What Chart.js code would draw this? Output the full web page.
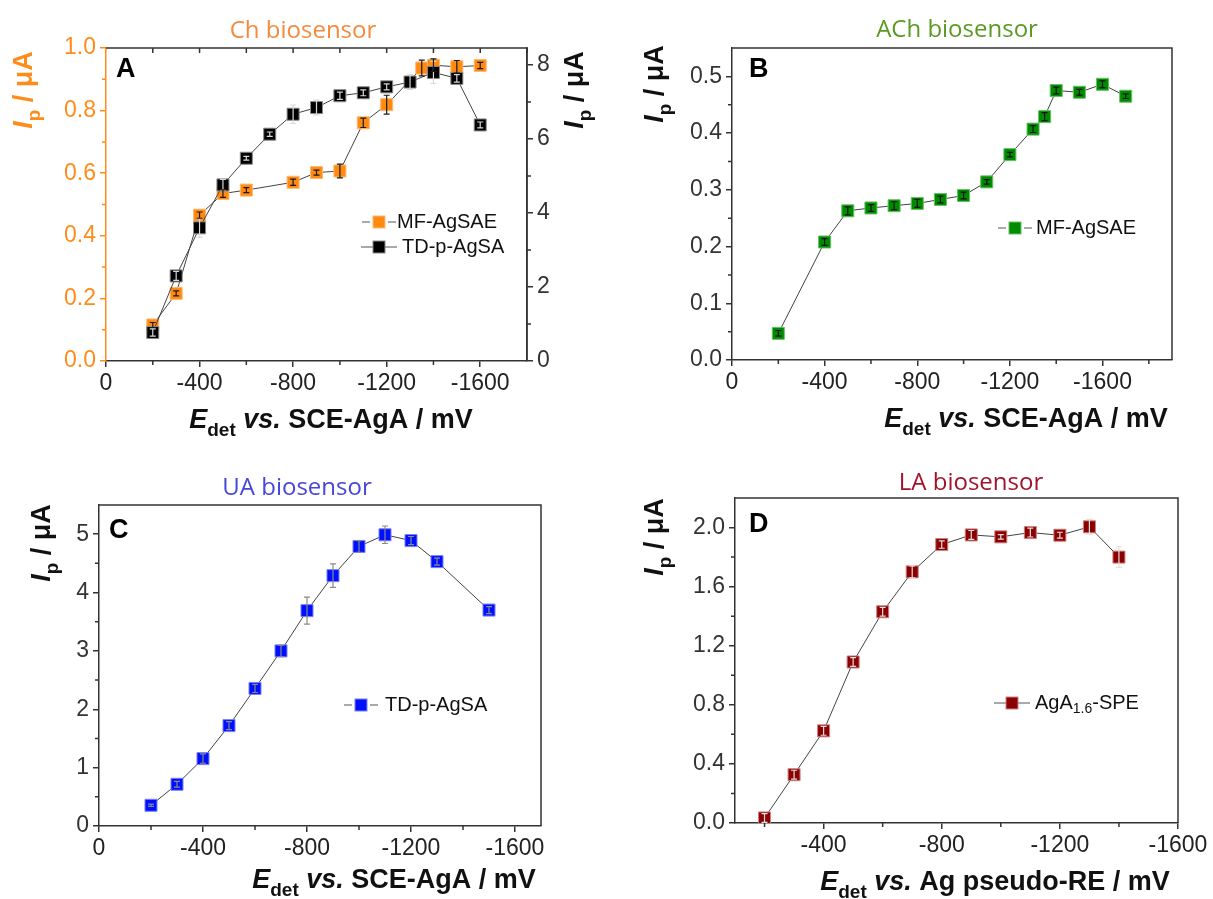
<!DOCTYPE html>
<html lang="en">
<head>
<meta charset="UTF-8">
<title>Biosensors: Ip vs detection potential</title>
<script src="https://cdn.jsdelivr.net/npm/chart.js"></script>
<style>
  body { margin: 0; background: #fff; }
  #wrap { position: relative; width: 1213px; height: 899px; overflow: hidden; }
  canvas { position: absolute; }
</style>
</head>
<body>
<div id="wrap">
  <canvas id="chartA" width="606" height="450" style="left:0;top:0"></canvas>
  <canvas id="chartB" width="607" height="450" style="left:606px;top:0"></canvas>
  <canvas id="chartC" width="606" height="449" style="left:0;top:450px"></canvas>
  <canvas id="chartD" width="607" height="449" style="left:606px;top:450px"></canvas>
</div>

<script>
// ---- data (potentials given as |E| in mV, labels are printed negative) ----

// A: Ch biosensor
const chPotMF = [200, 300, 400, 500, 600, 800, 900, 1000, 1100, 1200, 1350, 1400, 1500, 1600];
const chCurMF = [0.115, 0.216, 0.466, 0.535, 0.546, 0.571, 0.602, 0.607, 0.761, 0.819, 0.936, 0.945, 0.940, 0.944];
const chErrMF = [0.008, 0.008, 0.010, 0.012, 0.008, 0.010, 0.008, 0.022, 0.015, 0.030, 0.025, 0.020, 0.020, 0.010];
const chPotTD = [200, 300, 400, 500, 600, 700, 800, 900, 1000, 1100, 1200, 1300, 1400, 1500, 1600];
const chCurTD = [0.77, 2.30, 3.60, 4.76, 5.48, 6.13, 6.67, 6.85, 7.17, 7.25, 7.41, 7.54, 7.80, 7.64, 6.38];
const chErrTD = [0.10, 0.12, 0.25, 0.15, 0.05, 0.06, 0.25, 0.20, 0.10, 0.08, 0.08, 0.20, 0.30, 0.10, 0.08];

// B: ACh biosensor
const achPot = [200, 400, 500, 600, 700, 800, 900, 1000, 1100, 1200, 1300, 1350, 1400, 1500, 1600, 1700];
const achCur = [0.047, 0.208, 0.263, 0.268, 0.272, 0.276, 0.283, 0.290, 0.314, 0.362, 0.407, 0.429, 0.475, 0.472, 0.486, 0.465];
const achErr = [0.005, 0.006, 0.007, 0.006, 0.007, 0.007, 0.006, 0.006, 0.004, 0.004, 0.006, 0.007, 0.006, 0.005, 0.006, 0.004];

// C: UA biosensor
const uaPot = [200, 300, 400, 500, 600, 700, 800, 900, 1000, 1100, 1200, 1300, 1500];
const uaCur = [0.355, 0.715, 1.155, 1.72, 2.357, 3.0, 3.69, 4.29, 4.79, 4.99, 4.89, 4.53, 3.70];
const uaErr = [0.02, 0.05, 0.08, 0.07, 0.07, 0.10, 0.23, 0.20, 0.10, 0.15, 0.07, 0.06, 0.06];

// D: LA biosensor
const laPot = [200, 300, 400, 500, 600, 700, 800, 900, 1000, 1100, 1200, 1300, 1400];
const laCur = [0.034, 0.327, 0.624, 1.09, 1.43, 1.70, 1.885, 1.95, 1.937, 1.966, 1.948, 2.005, 1.80];
const laErr = [0.03, 0.03, 0.03, 0.03, 0.03, 0.04, 0.025, 0.03, 0.015, 0.03, 0.02, 0.05, 0.07];

// tick labels
const xTicksSCE = [0, 400, 800, 1200, 1600];
const xTicksAg = [400, 800, 1200, 1600];
const yTicksA = [0, 0.2, 0.4, 0.6, 0.8, 1.0];
const yTicksA2 = [0, 2, 4, 6, 8];
const yTicksB = [0, 0.1, 0.2, 0.3, 0.4, 0.5];
const yTicksC = [0, 1, 2, 3, 4, 5];
const yTicksD = [0, 0.4, 0.8, 1.2, 1.6, 2.0];

const AX = '#333';
const ORANGE = '#ff8c1a';
const TICK_FONT = { family: 'Liberation Sans, Arial, sans-serif', size: 23 };
const SANS = 'Liberation Sans, Arial, sans-serif';

function pts(xs, ys) { return xs.map((x, i) => ({ x, y: ys[i] })); }
function fmtPot(v) { return v === 0 ? '0' : '-' + v; }

// minor ticks halfway between the major ones
function minors(major, max) {
    const step = major[1] - major[0];
    const out = [];
    for (let v = major[0] + step / 2; v < max - 1e-9; v += step) out.push(v);
    return out;
}

// draw a run of text pieces with different fonts (italic, subscripts)
function drawRich(ctx, parts, x, y, color) {
    let total = 0;
    parts.forEach(p => { ctx.font = p.font; p.w = ctx.measureText(p.t).width; total += p.w; });
    let cx = x - total / 2;
    ctx.textAlign = 'left';
    ctx.textBaseline = 'alphabetic';
    ctx.fillStyle = color;
    parts.forEach(p => { ctx.font = p.font; ctx.fillText(p.t, cx, y + (p.dy || 0)); cx += p.w; });
}

function yTitleParts() {
    return [
        { t: 'I', font: `italic bold 27px ${SANS}` },
        { t: 'p', font: `bold 19px ${SANS}`, dy: 8 },
        { t: ' / \u03bcA', font: `bold 27px ${SANS}` }
    ];
}
function xTitleParts(ref) {
    return [
        { t: 'E', font: `italic bold 27px ${SANS}` },
        { t: 'det', font: `bold 19px ${SANS}`, dy: 8 },
        { t: ' vs.', font: `italic bold 27px ${SANS}` },
        { t: ' ' + ref + ' / mV', font: `bold 27px ${SANS}` }
    ];
}

function lineDataset(label, xs, ys, err, fill, edge, errColor, axis, order) {
    return {
        label, data: pts(xs, ys), err, errColor,
        yAxisID: axis, order,
        showLine: true, borderColor: '#444', borderWidth: 1,
        pointStyle: 'rect', pointRadius: 8.5, pointBorderWidth: 1,
        pointBackgroundColor: fill, pointBorderColor: edge
    };
}

function axisX(min, max, ticks) {
    return {
        type: 'linear', min, max,
        afterBuildTicks: s => { s.ticks = ticks.map(v => ({ value: v })); },
        afterFit: s => { s.height = 40; },
        ticks: { callback: fmtPot, font: TICK_FONT, color: '#222', padding: 3, maxRotation: 0, autoSkip: false },
        grid: { drawOnChartArea: false, color: AX, tickLength: 6, lineWidth: 1.5, tickWidth: 1.5 },
        border: { color: AX, width: 1.5 }
    };
}

function axisY(pos, max, ticks, fmt, color, width) {
    return {
        type: 'linear', position: pos, min: 0, max,
        afterBuildTicks: s => { s.ticks = ticks.map(v => ({ value: v })); },
        afterFit: s => { s.width = width; },
        ticks: { callback: fmt, font: TICK_FONT, color, padding: 4, autoSkip: false },
        grid: { drawOnChartArea: false, color, tickLength: 6, lineWidth: 1.5, tickWidth: 1.5 },
        border: { color, width: 1.5 }
    };
}

// frame, minor ticks, titles, legend and error bars for one panel
function decor(p) {
    return {
        id: 'decor',
        afterDatasetsDraw(chart) {
            const ctx = chart.ctx;
            chart.data.datasets.forEach((ds, i) => {
                const meta = chart.getDatasetMeta(i);
                const ys = chart.scales[meta.yAxisID];
                ctx.save();
                ctx.strokeStyle = ds.errColor;
                ctx.lineWidth = 1.2;
                meta.data.forEach((pt, j) => {
                    const v = ds.data[j].y, e = ds.err[j];
                    const y1 = ys.getPixelForValue(v + e), y2 = ys.getPixelForValue(v - e);
                    ctx.beginPath();
                    ctx.moveTo(pt.x, y1); ctx.lineTo(pt.x, y2);
                    ctx.moveTo(pt.x - 3, y1); ctx.lineTo(pt.x + 3, y1);
                    ctx.moveTo(pt.x - 3, y2); ctx.lineTo(pt.x + 3, y2);
                    ctx.stroke();
                });
                ctx.restore();
            });
        },
        afterDraw(chart) {
            const ctx = chart.ctx;
            const a = chart.chartArea;
            ctx.save();

            // top and right frame
            ctx.strokeStyle = AX;
            ctx.lineWidth = 1.5;
            ctx.beginPath();
            ctx.moveTo(a.left, a.top); ctx.lineTo(a.right, a.top); ctx.lineTo(a.right, a.bottom);
            ctx.stroke();

            // minor ticks
            const xs = chart.scales.x;
            ctx.beginPath();
            minors(p.xMajor, xs.max).forEach(v => {
                const px = xs.getPixelForValue(v);
                if (px < a.left - 0.5) return;
                ctx.moveTo(px, a.bottom); ctx.lineTo(px, a.bottom + 4);
            });
            ctx.stroke();
            if (p.topTicks) {
                ctx.beginPath();
                for (let v = 200; v <= xs.max; v += 200) {
                    const px = xs.getPixelForValue(v);
                    ctx.moveTo(px, a.top); ctx.lineTo(px, a.top + 5);
                }
                ctx.stroke();
            }
            p.yMinor.forEach(m => {
                const s = chart.scales[m.id];
                ctx.strokeStyle = m.color;
                ctx.beginPath();
                minors(m.major, s.max).forEach(v => {
                    const py = s.getPixelForValue(v);
                    if (s.position === 'left') { ctx.moveTo(a.left, py); ctx.lineTo(a.left - 4, py); }
                    else { ctx.moveTo(a.right, py); ctx.lineTo(a.right + 4, py); }
                });
                ctx.stroke();
            });

            // panel title and letter
            ctx.font = `24px Open Sans, Noto Sans, sans-serif`;
            ctx.fillStyle = p.titleColor;
            ctx.textAlign = 'center';
            ctx.textBaseline = 'alphabetic';
            ctx.fillText(p.title, p.titlePos[0], p.titlePos[1]);
            ctx.font = `bold 27px ${SANS}`;
            ctx.fillStyle = '#000';
            ctx.textAlign = 'left';
            ctx.fillText(p.letter, p.letterPos[0], p.letterPos[1]);

            // axis titles
            drawRich(ctx, xTitleParts(p.xRef), p.xTitle[0], p.xTitle[1], '#111');
            p.yTitles.forEach(t => {
                ctx.save();
                ctx.translate(t.x, t.y);
                ctx.rotate(-Math.PI / 2);
                drawRich(ctx, yTitleParts(), 0, 0, t.color);
                ctx.restore();
            });

            // legend
            p.legend.forEach(l => {
                const ds = chart.data.datasets[l.ds];
                ctx.strokeStyle = '#555';
                ctx.lineWidth = 1.2;
                ctx.beginPath();
                if (l.gap) {
                    ctx.moveTo(l.x - 17, l.y); ctx.lineTo(l.x - 9, l.y);
                    ctx.moveTo(l.x + 9, l.y); ctx.lineTo(l.x + 17, l.y);
                } else {
                    ctx.moveTo(l.x - 18, l.y); ctx.lineTo(l.x + 18, l.y);
                }
                ctx.stroke();
                ctx.fillStyle = ds.pointBackgroundColor;
                ctx.fillRect(l.x - 6, l.y - 6, 12, 12);
                ctx.strokeStyle = ds.pointBorderColor;
                ctx.lineWidth = 1;
                ctx.strokeRect(l.x - 6, l.y - 6, 12, 12);
                ctx.fillStyle = '#111';
                ctx.textBaseline = 'middle';
                ctx.textAlign = 'left';
                let tx = l.tx;
                l.text.forEach(seg => {
                    ctx.font = seg.sub ? `14px ${SANS}` : `20px ${SANS}`;
                    ctx.fillText(seg.t, tx, l.y + (seg.sub ? 6 : 0));
                    tx += ctx.measureText(seg.t).width;
                });
            });
            ctx.restore();
        }
    };
}

function makeChart(id, datasets, scales, padding, panel) {
    return new Chart(document.getElementById(id).getContext('2d'), {
        type: 'scatter',
        data: { datasets },
        options: {
            responsive: false,
            animation: false,
            layout: { padding },
            plugins: { legend: { display: false }, tooltip: { enabled: false } },
            scales
        },
        plugins: [decor(panel)]
    });
}

// ---- panel A ----
makeChart('chartA', [
    lineDataset('TD-p-AgSA', chPotTD, chCurTD, chErrTD, '#000', '#8a8a8a', '#d8d8d8', 'y2', 0),
    lineDataset('MF-AgSAE', chPotMF, chCurMF, chErrMF, '#ff8a12', '#ffb870', '#1a1a1a', 'y', 1)
], {
    x: axisX(0, 1800, xTicksSCE),
    y: axisY('left', 1.0, yTicksA, v => v.toFixed(1), ORANGE, 70),
    y2: axisY('right', 8.46, yTicksA2, v => String(v), AX, 40)
}, { left: 36, right: 39, top: 48, bottom: 49 }, {
    xMajor: xTicksSCE, topTicks: true,
    yMinor: [{ id: 'y', major: yTicksA, color: ORANGE }, { id: 'y2', major: yTicksA2, color: AX }],
    title: 'Ch biosensor', titleColor: '#f58a3d', titlePos: [303, 38],
    letter: 'A', letterPos: [116, 77],
    xRef: 'SCE-AgA', xTitle: [331, 428],
    yTitles: [{ x: 32, y: 90, color: ORANGE }, { x: 583, y: 90, color: '#111' }],
    legend: [
        { ds: 1, x: 379, y: 222, tx: 397, gap: true, text: [{ t: 'MF-AgSAE' }] },
        { ds: 0, x: 379, y: 247, tx: 402, text: [{ t: 'TD-p-AgSA' }] }
    ]
});

// ---- panel B ----
makeChart('chartB', [
    lineDataset('MF-AgSAE', achPot, achCur, achErr, '#008a00', '#66c266', '#111', 'y', 0)
], {
    x: axisX(0, 1900, xTicksSCE),
    y: axisY('left', 0.55, yTicksB, v => v.toFixed(1), AX, 70)
}, { left: 56, right: 41, top: 48, bottom: 50 }, {
    xMajor: xTicksSCE,
    yMinor: [{ id: 'y', major: yTicksB, color: AX }],
    title: 'ACh biosensor', titleColor: '#5a9a22', titlePos: [351, 37],
    letter: 'B', letterPos: [143, 77],
    xRef: 'SCE-AgA', xTitle: [420, 427],
    yTitles: [{ x: 57, y: 84, color: '#111' }],
    legend: [{ ds: 0, x: 409, y: 228, tx: 430, gap: true, text: [{ t: 'MF-AgSAE' }] }]
});

// ---- panel C ----
makeChart('chartC', [
    lineDataset('TD-p-AgSA', uaPot, uaCur, uaErr, '#0010ff', '#7a80ff', '#8a8a8a', 'y', 0)
], {
    x: axisX(0, 1700, xTicksSCE),
    y: axisY('left', 5.5, yTicksC, v => String(v), AX, 70)
}, { left: 29, right: 65, top: 55, bottom: 33 }, {
    xMajor: xTicksSCE,
    yMinor: [{ id: 'y', major: yTicksC, color: AX }],
    title: 'UA biosensor', titleColor: '#4646dc', titlePos: [297, 45],
    letter: 'C', letterPos: [109, 88],
    xRef: 'SCE-AgA', xTitle: [394, 438],
    yTitles: [{ x: 50, y: 93, color: '#111' }],
    legend: [{ ds: 0, x: 361, y: 255, tx: 385, gap: true, text: [{ t: 'TD-p-AgSA' }] }]
});

// ---- panel D ----
makeChart('chartD', [
    lineDataset('AgA1.6-SPE', laPot, laCur, laErr, '#8b0000', '#d08080', '#e0e0e0', 'y', 0)
], {
    x: axisX(100, 1600, xTicksAg),
    y: axisY('left', 2.2, yTicksD, v => v.toFixed(1), AX, 70)
}, { left: 59, right: 35, top: 48, bottom: 36 }, {
    xMajor: xTicksSCE,
    yMinor: [{ id: 'y', major: yTicksD, color: AX }],
    title: 'LA biosensor', titleColor: '#a0142c', titlePos: [365, 40],
    letter: 'D', letterPos: [143, 82],
    xRef: 'Ag pseudo-RE', xTitle: [389, 440],
    yTitles: [{ x: 57, y: 87, color: '#111' }],
    legend: [{ ds: 0, x: 406, y: 253, tx: 429, text: [{ t: 'AgA' }, { t: '1.6', sub: true }, { t: '-SPE' }] }]
});
</script>
</body>
</html>
